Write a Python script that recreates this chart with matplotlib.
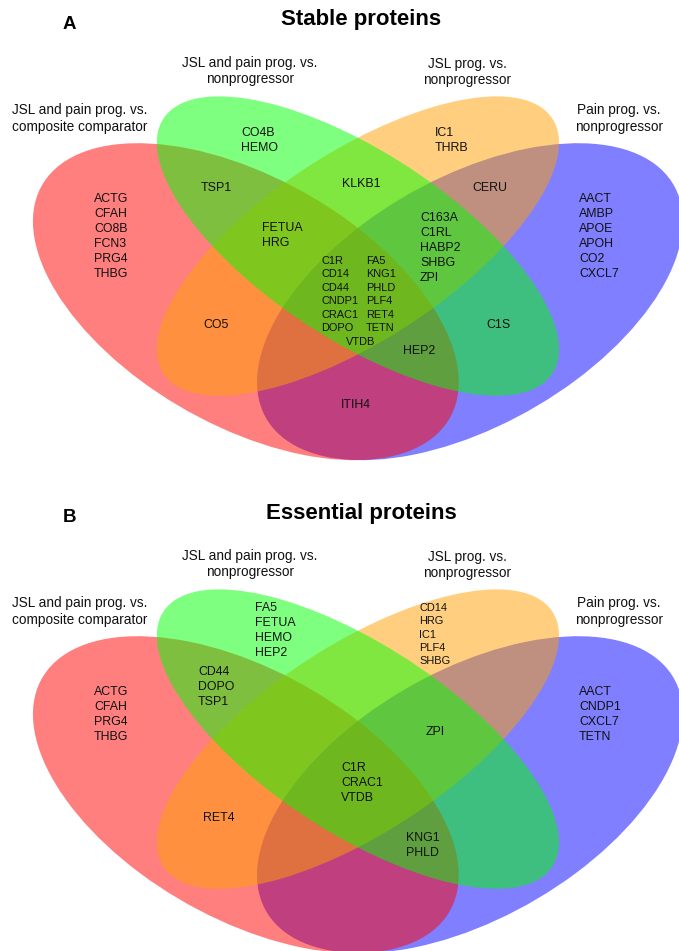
import matplotlib.pyplot as plt
from matplotlib.patches import Ellipse

plt.rcParams['font.family'] = ['Liberation Sans', 'DejaVu Sans']

# comparison names, one per ellipse
set_names = [
    'JSL and pain prog. vs.\ncomposite comparator',
    'JSL and pain prog. vs.\nnonprogressor',
    'JSL prog. vs.\nnonprogressor',
    'Pain prog. vs.\nnonprogressor',
]

# panel A: stable proteins per Venn region
# c = composite comparator, jp = JSL+pain vs nonprog, j = JSL vs nonprog, p = pain vs nonprog
stable_c = ['ACTG', 'CFAH', 'CO8B', 'FCN3', 'PRG4', 'THBG']
stable_jp = ['CO4B', 'HEMO']
stable_j = ['IC1', 'THRB']
stable_p = ['AACT', 'AMBP', 'APOE', 'APOH', 'CO2', 'CXCL7']
stable_c_jp = ['TSP1']
stable_jp_j = ['KLKB1']
stable_j_p = ['CERU']
stable_c_jp_j = ['FETUA', 'HRG']
stable_jp_j_p = ['C163A', 'C1RL', 'HABP2', 'SHBG', 'ZPI']
stable_all = ['C1R', 'CD14', 'CD44', 'CNDP1', 'CRAC1', 'DOPO',
              'FA5', 'KNG1', 'PHLD', 'PLF4', 'RET4', 'TETN', 'VTDB']
stable_c_j = ['CO5']
stable_jp_p = ['C1S']
stable_c_jp_p = ['HEP2']
stable_c_p = ['ITIH4']

# panel B: essential proteins per Venn region
essential_c = ['ACTG', 'CFAH', 'PRG4', 'THBG']
essential_jp = ['FA5', 'FETUA', 'HEMO', 'HEP2']
essential_j = ['CD14', 'HRG', 'IC1', 'PLF4', 'SHBG']
essential_p = ['AACT', 'CNDP1', 'CXCL7', 'TETN']
essential_c_jp = ['CD44', 'DOPO', 'TSP1']
essential_jp_j_p = ['ZPI']
essential_all = ['C1R', 'CRAC1', 'VTDB']
essential_c_j = ['RET4']
essential_c_jp_p = ['KNG1', 'PHLD']

# ellipse layout in unit coordinates (drawing order: blue, red, orange, green)
ellipses = [
    dict(xy=(0.65, 0.47), w=0.70, h=0.40, angle=45, color=(0, 0, 1)),
    dict(xy=(0.35, 0.47), w=0.70, h=0.40, angle=-45, color=(1, 0, 0)),
    dict(xy=(0.50, 0.57), w=0.70, h=0.30, angle=45, color=(1, 0.63, 0)),
    dict(xy=(0.50, 0.57), w=0.70, h=0.30, angle=-45, color=(0, 1, 0)),
]

# pixel -> unit coordinate mapping inside a panel
X_SCALE, X_OFF = 747.0, 15.6
Y_SCALE, Y_OFF = 556.0, 563.0
FIG_W, FIG_H, PANEL_H = 679, 951, 493

REGION_FS = 8.9
SMALL_FS = 7.9
SET_FS = 9.8


def to_unit(px, py):
    return (px + X_OFF) / X_SCALE, (Y_OFF - py) / Y_SCALE


def put_names(ax, names, px, py, step=15.0, fs=REGION_FS):
    for i, name in enumerate(names):
        x, y = to_unit(px, py + i * step)
        ax.text(x, y, name, ha='left', va='center', fontsize=fs,
                color='#111111', zorder=10)


def draw_panel(ax, letter, title, height_px):
    x0, _ = to_unit(0, 0)
    x1, _ = to_unit(FIG_W, 0)
    _, y_top = to_unit(0, 0)
    _, y_bot = to_unit(0, height_px)
    ax.set_xlim(x0, x1)
    ax.set_ylim(y_bot, y_top)
    ax.axis('off')

    for z, e in enumerate(ellipses):
        ax.add_patch(Ellipse(e['xy'], e['w'], e['h'], angle=e['angle'],
                             facecolor=e['color'], alpha=0.5,
                             edgecolor='none', zorder=z + 1))

    x, y = to_unit(69, 25)
    ax.text(x, y, letter, ha='center', va='center', fontsize=13.5,
            fontweight='bold')
    x, y = to_unit(361, 20)
    ax.text(x, y, title, ha='center', va='center', fontsize=16,
            fontweight='bold')

    label_pos = [(80, 118.5), (250, 71), (467, 72), (619, 118.5)]
    for name, (px, py) in zip(set_names, label_pos):
        x, y = to_unit(px, py)
        ax.text(x, y, name, ha='center', va='center', fontsize=SET_FS,
                linespacing=1.2, color='#111111')


fig = plt.figure(figsize=(FIG_W / 100, FIG_H / 100), dpi=100)

# Panel A
ax_a = fig.add_axes([0, 1 - PANEL_H / FIG_H, 1, PANEL_H / FIG_H])
draw_panel(ax_a, 'A', 'Stable proteins', PANEL_H)
put_names(ax_a, stable_c, 94, 199)
put_names(ax_a, stable_jp, 241, 133)
put_names(ax_a, stable_j, 435, 133)
put_names(ax_a, stable_p, 579, 199)
put_names(ax_a, stable_c_jp, 201, 188)
put_names(ax_a, stable_jp_j, 342, 184)
put_names(ax_a, stable_j_p, 472, 188)
put_names(ax_a, stable_c_jp_j, 262, 228)
put_names(ax_a, stable_jp_j_p, 420, 218)
put_names(ax_a, stable_all[:6], 321, 261, step=13.4, fs=SMALL_FS)
put_names(ax_a, stable_all[6:12], 366, 261, step=13.4, fs=SMALL_FS)
put_names(ax_a, stable_all[12:], 346, 342, fs=SMALL_FS)
put_names(ax_a, stable_c_j, 203, 325)
put_names(ax_a, stable_jp_p, 486, 325)
put_names(ax_a, stable_c_jp_p, 403, 351)
put_names(ax_a, stable_c_p, 341, 405)

# Panel B (bottom of the ellipses runs off the figure)
b_h = FIG_H - PANEL_H
ax_b = fig.add_axes([0, 0, 1, b_h / FIG_H])
draw_panel(ax_b, 'B', 'Essential proteins', b_h)
put_names(ax_b, essential_c, 94, 199)
put_names(ax_b, essential_jp, 255, 115)
put_names(ax_b, essential_j, 419, 115, step=13.3, fs=SMALL_FS)
put_names(ax_b, essential_p, 579, 199)
put_names(ax_b, essential_c_jp, 198, 179)
put_names(ax_b, essential_jp_j_p, 426, 239)
put_names(ax_b, essential_all, 341, 275)
put_names(ax_b, essential_c_j, 203, 325)
put_names(ax_b, essential_c_jp_p, 406, 345)

fig.savefig('out.png', dpi=100)
